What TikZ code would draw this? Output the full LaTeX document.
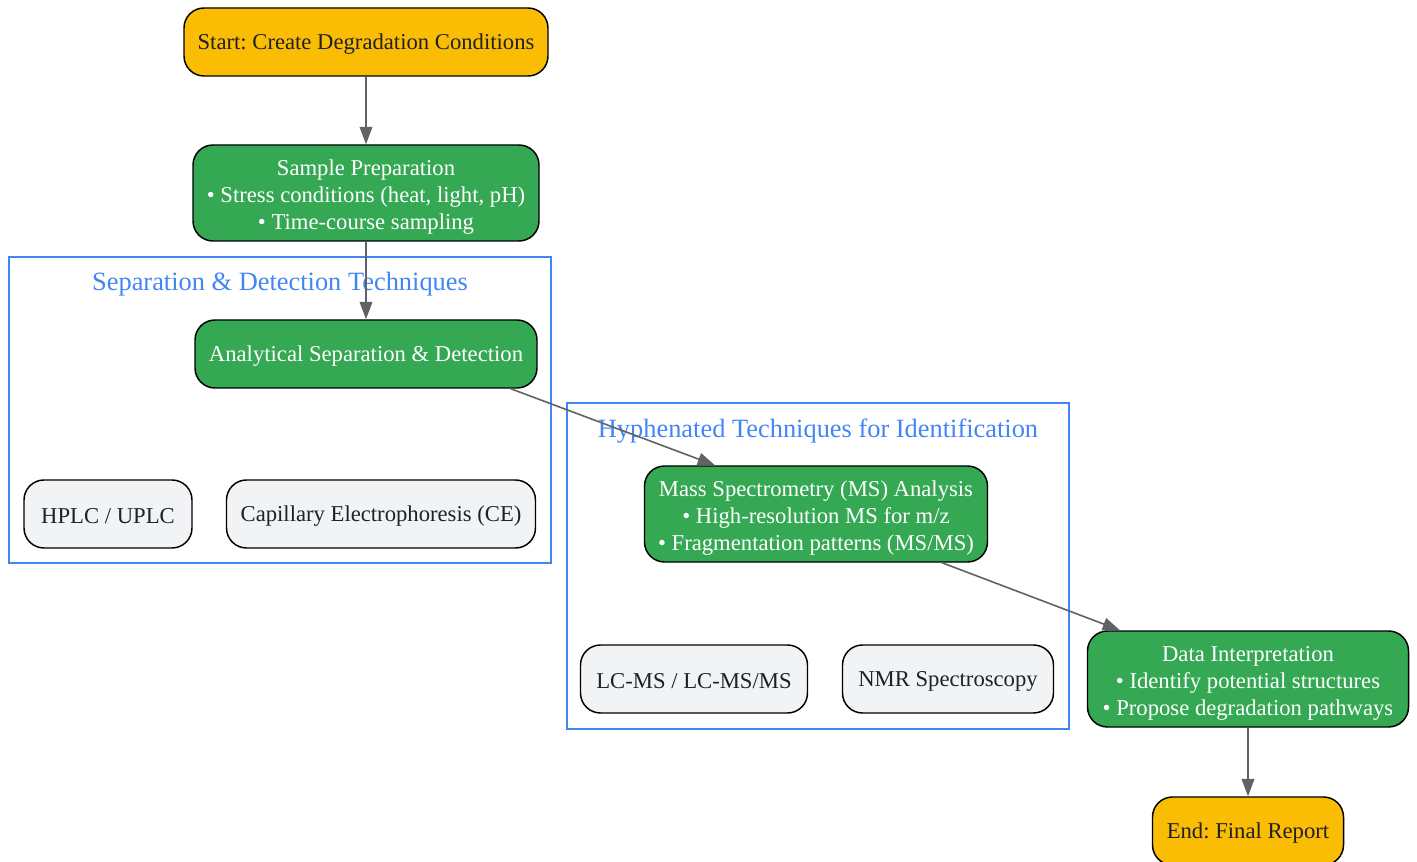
\documentclass[tikz,border=0pt]{standalone}
\usepackage{fontspec}
\setmainfont{Liberation Serif}
\usetikzlibrary{positioning,arrows.meta}
\definecolor{startyellow}{HTML}{FBBC04}
\definecolor{stepgreen}{HTML}{34A853}
\definecolor{techgray}{HTML}{F1F3F4}
\definecolor{clusterblue}{HTML}{4285F4}
\definecolor{arrowgray}{HTML}{5F6368}
\definecolor{darktext}{HTML}{202124}
\frenchspacing
\newcommand{\drop}{\rule{0pt}{17.8pt}}

\begin{document}
\begin{tikzpicture}[
x=0.75pt, y=-0.75pt,
textdrop/.style={
    execute at begin node={\rule{0pt}{#1}}
},
box/.style={
    draw=black,
    line width=1.1pt,
    rounded corners=15pt,
    align=center,
    inner sep=0pt,
    font=\fontsize{17}{20.25}\selectfont
},
terminal/.style={
    box,
    textdrop=14.8pt,
    fill=startyellow,
    text=darktext,
    minimum height=51pt
},
process/.style={
    box,
    fill=stepgreen,
    text=white
},
technique/.style={
    box,
    textdrop=14.8pt,
    fill=techgray,
    text=darktext,
    minimum height=51pt
},
cluster/.style={
    draw=clusterblue,
    line width=1pt
},
clusterlabel/.style={
    text=clusterblue,
    font=\fontsize{19.8}{23}\selectfont
},
flow/.style={
    draw=arrowgray,
    line width=1.2pt,
    -{Triangle[length=13pt,width=9.5pt]}
}
]
\useasboundingbox (0,0) rectangle (1417,862);

% clusters
\draw[cluster] (9,257) rectangle (551,563);
\node[clusterlabel] (seplabel) at (280,284.5) {Separation \& Detection Techniques};
\draw[cluster] (567,403) rectangle (1069,729);
\node[clusterlabel] (hyplabel) at (818,431.5) {Hyphenated Techniques for Identification};

% nodes
\node[terminal, minimum width=273pt] (start) at (366,42) {Start: Create Degradation Conditions};
\node[process, minimum width=259.5pt, minimum height=72pt] (prep) at (366,193)
    {\drop Sample Preparation\\• Stress conditions (heat, light, pH)\\• Time-course sampling};
\node[process, textdrop=14.8pt, minimum width=256.5pt, minimum height=51pt] (analysis) at (366,354)
    {Analytical Separation \& Detection};
\node[technique, minimum width=126pt] (hplc) at (108,514) {HPLC / UPLC};
\node[technique, minimum width=231.75pt] (ce) at (381,514) {Capillary Electrophoresis (CE)};
\node[process, minimum width=257.25pt, minimum height=72pt] (ms) at (816,514)
    {\drop Mass Spectrometry (MS) Analysis\\• High-resolution MS for m/z\\• Fragmentation patterns (MS/MS)};
\node[technique, minimum width=170.25pt] (lcms) at (694,679) {LC-MS / LC-MS/MS};
\node[technique, minimum width=158.25pt] (nmr) at (948,679) {NMR Spectroscopy};
\node[process, minimum width=240.75pt, minimum height=72pt] (data) at (1248,679)
    {\drop Data Interpretation\\• Identify potential structures\\• Propose degradation pathways};
\node[terminal, minimum width=143.25pt] (end) at (1248,831) {End: Final Report};

% connectors
\draw[flow] (start) -- (prep);
\draw[flow] (prep) -- (analysis);
\draw[flow] (analysis.south east) ++(-27,0) coordinate (a1) (a1) -- (ms.north west -| 715,466);
\draw[flow] (ms.south) ++(126,0) coordinate (m1) (m1) -- (data.north west -| 1120,631);
\draw[flow] (data) -- (end);
\end{tikzpicture}
\end{document}
